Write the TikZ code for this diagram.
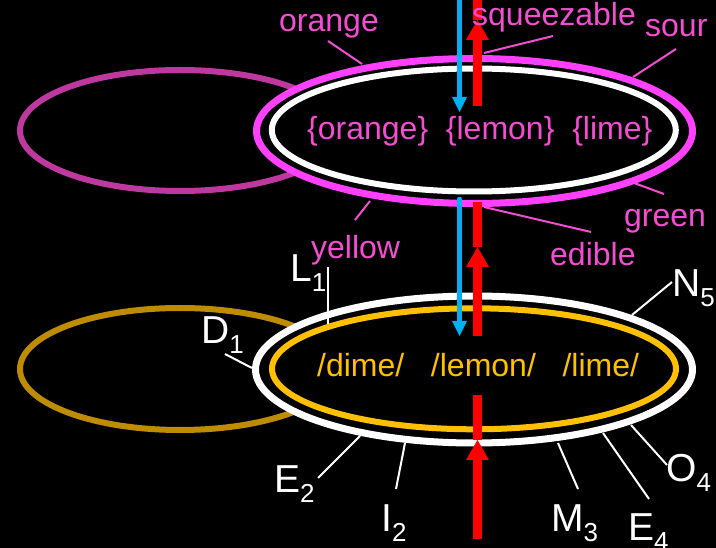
\documentclass[tikz,border=0pt]{standalone}
\usepackage{fontspec}
\setmainfont{Liberation Sans}
\usetikzlibrary{arrows.meta,shapes.geometric}
\definecolor{magring}{RGB}{255,64,255}
\definecolor{magdark}{RGB}{191,56,160}
\definecolor{pinktxt}{RGB}{245,77,210}
\definecolor{orgring}{RGB}{255,192,0}
\definecolor{goldring}{RGB}{191,140,0}
\definecolor{arrblue}{RGB}{0,176,240}
\definecolor{arrred}{RGB}{255,0,0}
\newcommand\fmain{\fontsize{32}{38}\selectfont}
\newcommand\flab{\fontsize{39}{46}\selectfont}
\newcommand\fsubs{\fontsize{26}{30}\selectfont}
\newcommand\labsub[2]{#1\raisebox{-10pt}{\fsubs #2}}
\begin{document}
\begin{tikzpicture}[x=1pt,y=-1pt,
  ring/.style={ellipse, draw, inner sep=0pt, outer sep=0pt},
  pinklab/.style={text=pinktxt, font=\fmain, inner sep=0pt, anchor=base west},
  orglab/.style={text=orgring, font=\fmain, inner sep=0pt, anchor=base west},
  whitelab/.style={text=white, font=\flab, inner sep=0pt, anchor=base west},
  pinklead/.style={draw=pinktxt, line width=2pt},
  whitelead/.style={draw=white, line width=2pt},
  redline/.style={draw=arrred, line width=9pt},
  blueline/.style={draw=arrblue, line width=4.5pt},
  redhead/.style={-{Triangle[width=23pt,length=20pt,line width=0pt]}},
  bluehead/.style={-{Triangle[width=15pt,length=15pt,line width=0pt]}}]
\fill[black] (0,0) rectangle (716,548);
\useasboundingbox (0,0) rectangle (716,548);

% left rings
\node[ring, draw=magdark, line width=6pt, minimum width=320pt, minimum height=121pt] (topleft) at (180,130.5) {};
\node[ring, draw=goldring, line width=6pt, minimum width=320pt, minimum height=122pt] (botleft) at (180,369) {};

% main rings
\node[ring, draw=magring, fill=black, line width=7pt, minimum width=436pt, minimum height=145pt] (topouter) at (474.5,131) {};
\node[ring, draw=white, line width=6pt, minimum width=404pt, minimum height=123pt] (topinner) at (473.8,130) {};
\node[ring, draw=white, fill=black, line width=7pt, minimum width=437pt, minimum height=147pt] (botouter) at (474,369.5) {};
\node[ring, draw=orgring, line width=6pt, minimum width=404pt, minimum height=121pt] (botinner) at (474,368.8) {};

% texts in rings
\node[pinklab] (toptext) at (307,140) {\{orange\}\ \ \{lemon\}\ \ \{lime\}};
\node[orglab] (bottext) at (317,377) {/dime/\ \ \ /lemon/\ \ \ /lime/};

% arrows
\coordinate (b1s) at (459.5,0);
\coordinate (b1e) at (459.5,112);
\coordinate (b2s) at (459.5,199);
\coordinate (b2e) at (459.5,336);
\draw[blueline, bluehead] (b1s) -- (b1e);
\draw[blueline, bluehead, line cap=round] (b2s) -- (b2e);

\coordinate (r1s) at (477.5,106);
\coordinate (r1t) at (477.5,20);
\coordinate (r1e) at (477.5,0);
\coordinate (r2s) at (477.5,336);
\coordinate (r2t) at (477.5,247);
\coordinate (r2e) at (477.5,202);
\coordinate (r3s) at (477.5,539);
\coordinate (r3t) at (477.5,440);
\coordinate (r3e) at (477.5,395);
\draw[redline, redhead] (r1s) -- (r1t);
\draw[redline] (r1t) -- (r1e);
\draw[redline, redhead] (r2s) -- (r2t);
\draw[redline] (r2t) -- (r2e);
\draw[redline, redhead] (r3s) -- (r3t);
\draw[redline] (r3t) -- (r3e);

% pink labels
\node[pinklab] (lorange) at (279,32) {orange};
\node[pinklab] (lsqueeze) at (472,26) {squeezable};
\node[pinklab] (lsour) at (645,37) {sour};
\node[pinklab] (lgreen) at (624,227) {green};
\node[pinklab] (ledible) at (550,266) {edible};
\node[pinklab] (lyellow) at (311,259) {yellow};

\coordinate (orA) at (328,41);   \coordinate (orB) at (362,64);
\coordinate (sqA) at (553,36);   \coordinate (sqB) at (484,53);
\coordinate (soA) at (676,49);   \coordinate (soB) at (633,77);
\coordinate (grA) at (664,194);  \coordinate (grB) at (634,183);
\coordinate (edA) at (591,232);  \coordinate (edB) at (484,207);
\coordinate (yeA) at (355,220);  \coordinate (yeB) at (370,201);
\draw[pinklead] (orA) -- (orB);
\draw[pinklead] (sqA) -- (sqB);
\draw[pinklead] (soA) -- (soB);
\draw[pinklead] (grA) -- (grB);
\draw[pinklead] (edA) -- (edB);
\draw[pinklead] (yeA) -- (yeB);

% white labels
\node[whitelab] (lL) at (290,282) {\labsub{L}{1}};
\node[whitelab] (lD) at (201,344) {\labsub{D}{1}};
\node[whitelab] (lE2) at (274,493) {\labsub{E}{2}};
\node[whitelab] (lI) at (381,531) {\labsub{I}{2}};
\node[whitelab] (lM) at (551,531) {\labsub{M}{3}};
\node[whitelab] (lE4) at (628,540) {\labsub{E}{4}};
\node[whitelab] (lO) at (666,482) {\labsub{O}{4}};
\node[whitelab] (lN) at (672,297) {\labsub{N}{5}};

\coordinate (LA) at (328,267);  \coordinate (LB) at (328,324);
\coordinate (DA) at (225,354);  \coordinate (DB) at (252,368);
\coordinate (EtA) at (318,478); \coordinate (EtB) at (360,436);
\coordinate (IA) at (396,489);  \coordinate (IB) at (405,443);
\coordinate (MA) at (578,489);  \coordinate (MB) at (558,443);
\coordinate (EfA) at (649,499); \coordinate (EfB) at (603,433);
\coordinate (OA) at (667,465);  \coordinate (OB) at (631,425);
\coordinate (NA) at (672,282);  \coordinate (NB) at (632,315);
\draw[whitelead] (LA) -- (LB);
\draw[whitelead] (DA) -- (DB);
\draw[whitelead] (EtA) -- (EtB);
\draw[whitelead] (IA) -- (IB);
\draw[whitelead] (MA) -- (MB);
\draw[whitelead] (EfA) -- (EfB);
\draw[whitelead] (OA) -- (OB);
\draw[whitelead] (NA) -- (NB);
\end{tikzpicture}
\end{document}
